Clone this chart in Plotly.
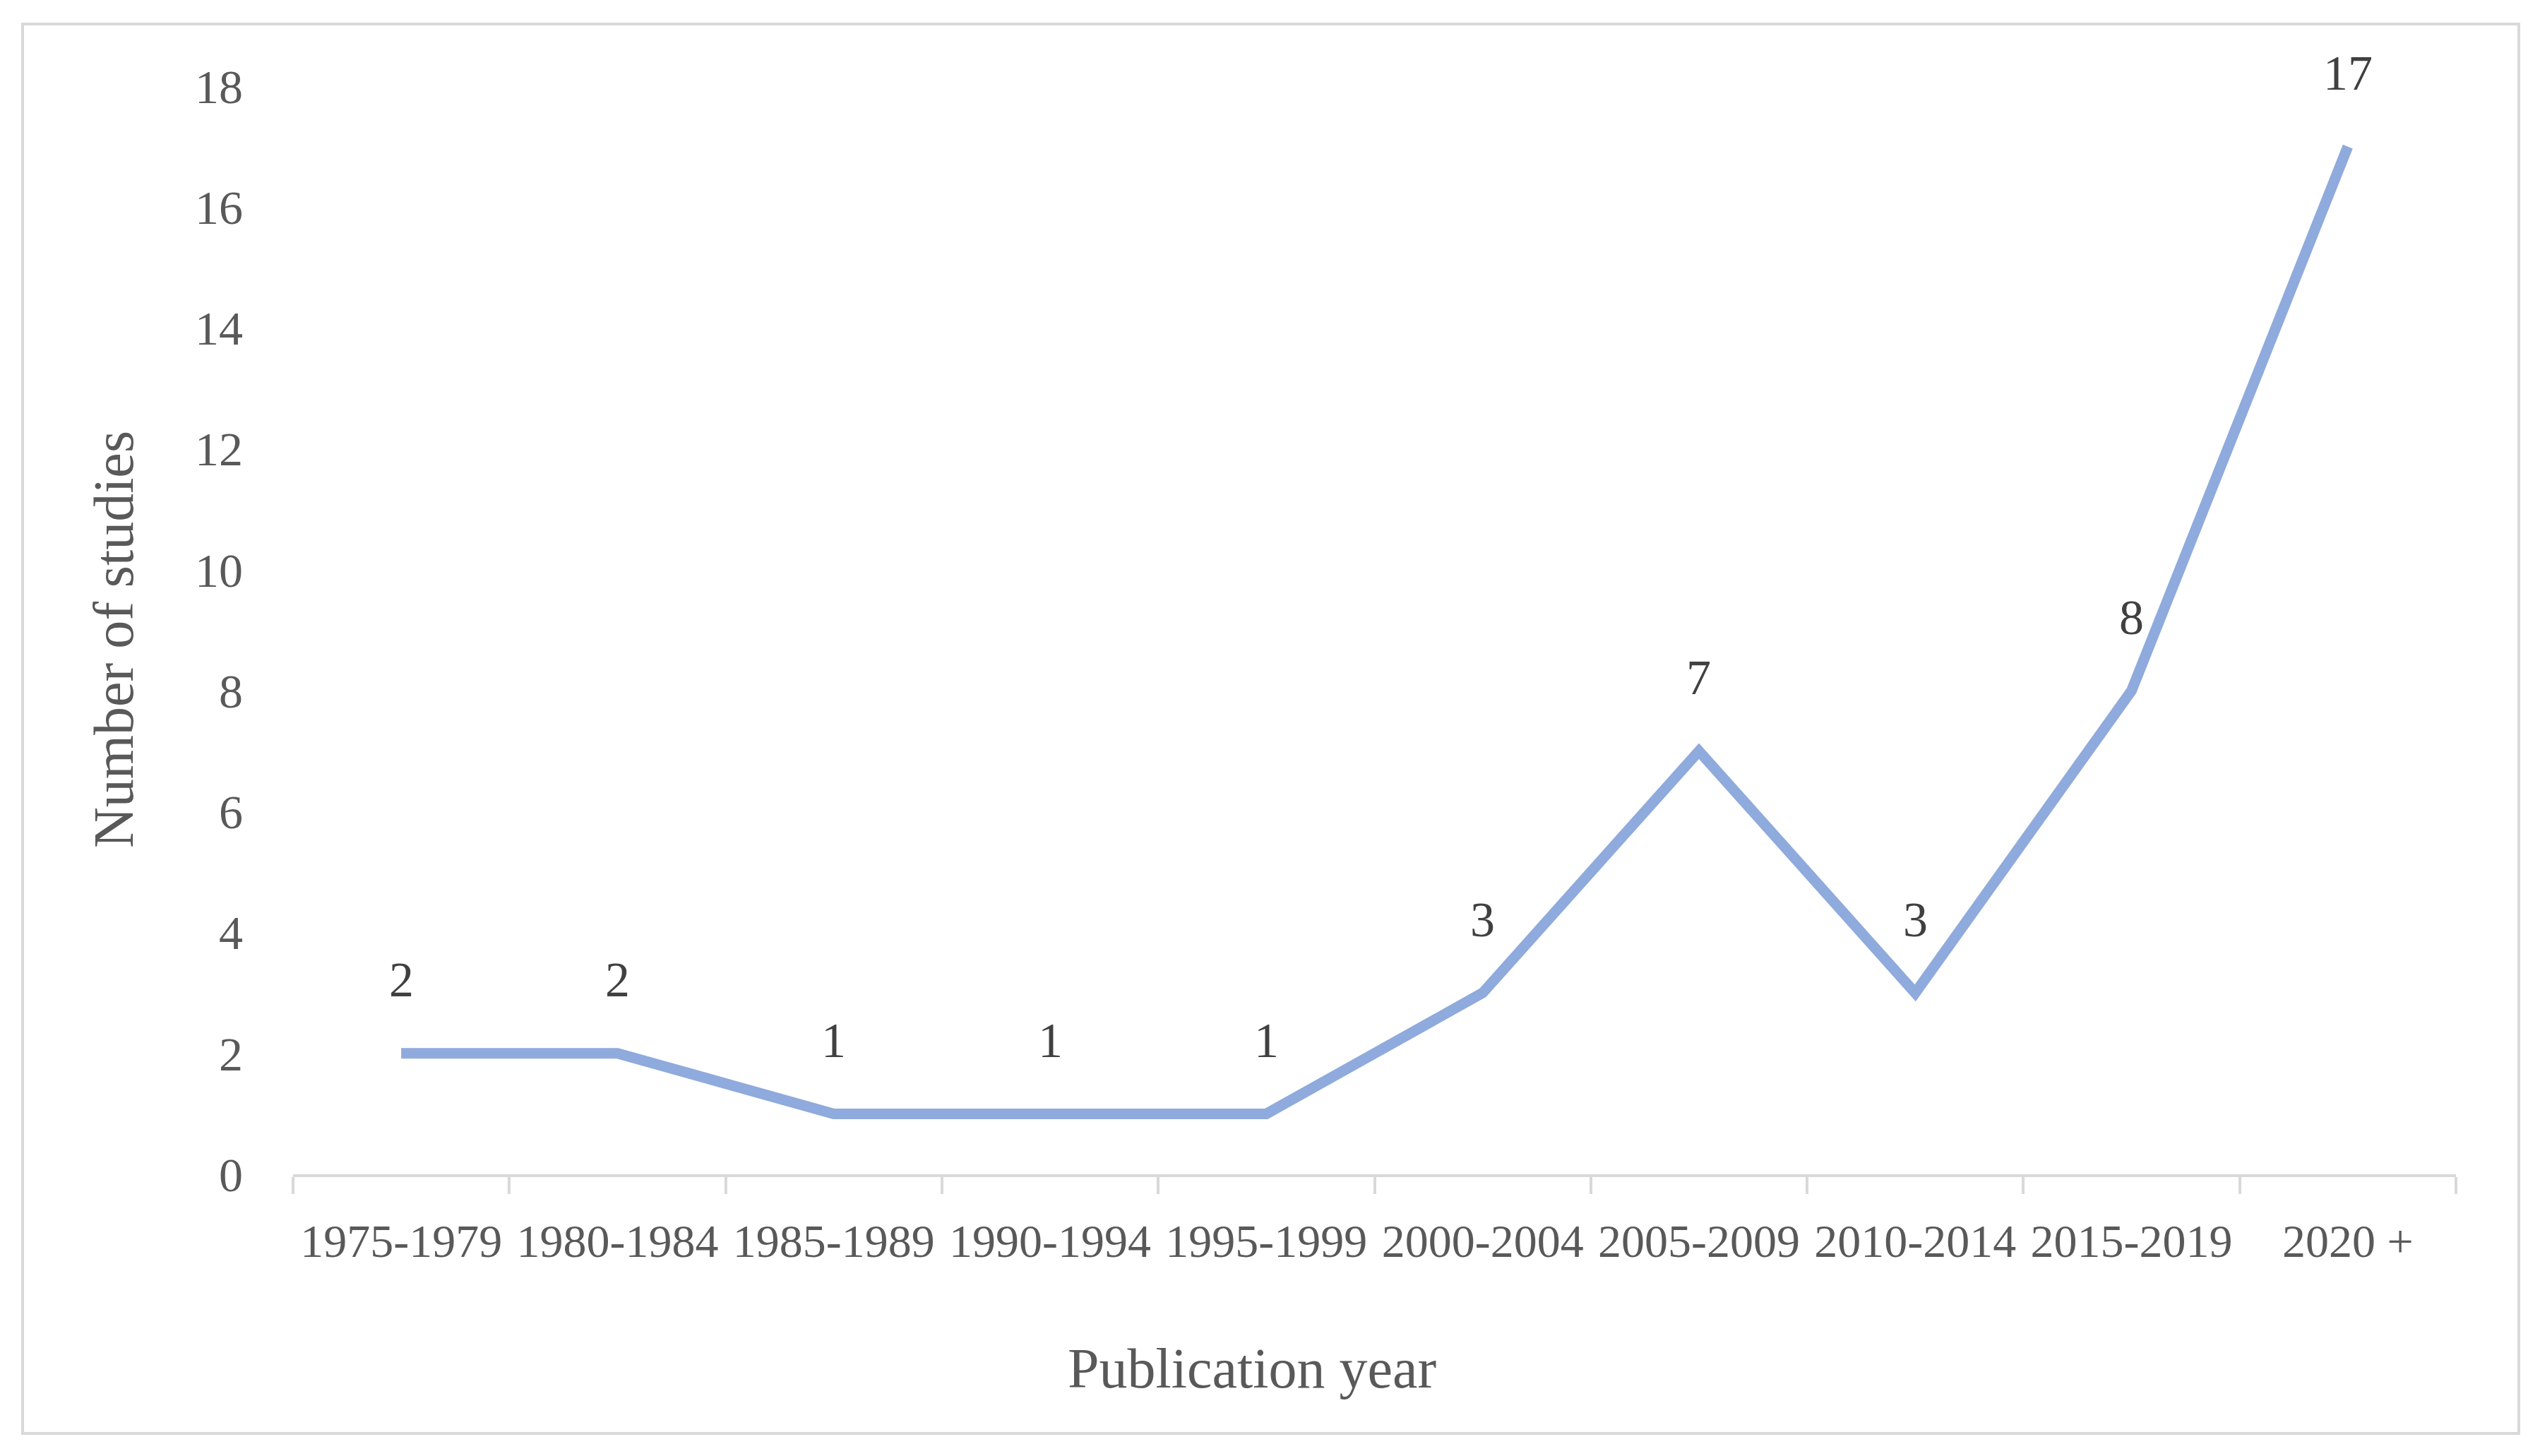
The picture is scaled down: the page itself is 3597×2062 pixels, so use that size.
import plotly.graph_objects as go

categories = ["1975-1979", "1980-1984", "1985-1989", "1990-1994", "1995-1999",
              "2000-2004", "2005-2009", "2010-2014", "2015-2019", "2020 +"]
studies = [2, 2, 1, 1, 1, 3, 7, 3, 8, 17]
y_ticks = [0, 2, 4, 6, 8, 10, 12, 14, 16, 18]

OFF = 8  # page body margin
W, H = 3597 - OFF, 2062 - OFF
L, R, T, B = 415 - OFF, 119, 122 - OFF, 399
PW, PH = W - L - R, H - T - B

def px_x(x):
    return (x - OFF - L) / PW

def px_y(y):
    return (H - B - (y - OFF)) / PH

FONT = "Palatino Linotype, Book Antiqua, Palatino, Liberation Serif, serif"
LINE_COLOR = "#8FAADC"
GRAY = "#D9D9D9"

fig = go.Figure()
fig.add_trace(go.Scatter(
    x=categories, y=studies, mode="lines",
    line=dict(color=LINE_COLOR, width=15),
    hoverinfo="skip", showlegend=False,
))

for c, v in zip(categories, studies):
    fig.add_annotation(x=c, y=v, text=str(v), showarrow=False, yshift=104,
                       font=dict(family=FONT, size=70, color="#404040"))

fig.add_annotation(xref="paper", yref="paper", x=px_x(1773), y=px_y(1938),
                   text="Publication year", showarrow=False,
                   xanchor="center", yanchor="middle",
                   font=dict(family=FONT, size=80, color="#595959"))
fig.add_annotation(xref="paper", yref="paper", x=px_x(161), y=px_y(906),
                   text="Number of studies", showarrow=False, textangle=-90,
                   xanchor="center", yanchor="middle",
                   font=dict(family=FONT, size=80, color="#595959"))

fig.add_shape(type="rect", xref="paper", yref="paper",
              x0=px_x(32), x1=px_x(3567), y0=px_y(2030), y1=px_y(34),
              line=dict(color=GRAY, width=4), fillcolor="rgba(0,0,0,0)",
              layer="below")

fig.update_layout(
    width=W, height=H,
    margin=dict(l=L, r=R, t=T, b=B, autoexpand=False),
    paper_bgcolor="white", plot_bgcolor="white",
    font=dict(family=FONT, size=68, color="#595959"),
)
fig.update_xaxes(
    type="category", range=[-0.5, len(categories) - 0.5],
    showline=True, linecolor=GRAY, linewidth=4,
    ticks="outside", tickson="boundaries", ticklen=24, tickcolor=GRAY, tickwidth=4,
    showgrid=False, zeroline=False, tickangle=0,
    tickfont=dict(family=FONT, size=66, color="#595959"),
    ticklabelstandoff=34,
)
fig.update_yaxes(
    range=[0, 18], tickvals=y_ticks, ticktext=[str(t) for t in y_ticks],
    showline=False, showgrid=False, zeroline=False, ticks="",
    tickfont=dict(family=FONT, size=68, color="#595959"),
    ticklabelstandoff=70,
)

fig.write_html("out.html")
